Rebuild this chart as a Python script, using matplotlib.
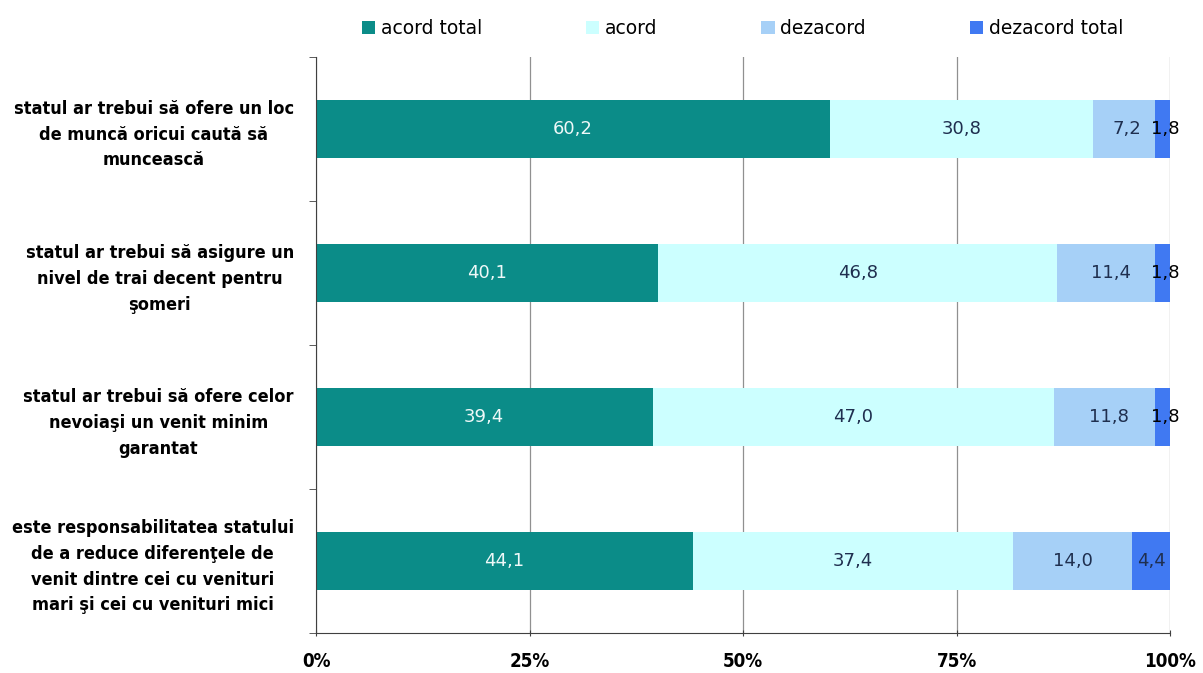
import matplotlib
matplotlib.use("Agg")
import matplotlib.pyplot as plt
import numpy as np

categories = [
    "statul ar trebui să ofere un loc\nde muncă oricui caută să\nmuncească",
    "statul ar trebui să asigure un\nnivel de trai decent pentru\nşomeri",
    "statul ar trebui să ofere celor\nnevoiaşi un venit minim\ngarantat",
    "este responsabilitatea statului\nde a reduce diferenţele de\nvenit dintre cei cu venituri\nmari şi cei cu venituri mici",
]
series_names = ["acord total", "acord", "dezacord", "dezacord total"]
acord_total = [60.2, 40.1, 39.4, 44.1]
acord = [30.8, 46.8, 47.0, 37.4]
dezacord = [7.2, 11.4, 11.8, 14.0]
dezacord_total = [1.8, 1.8, 1.8, 4.4]
x_ticks = [0, 25, 50, 75, 100]
x_tick_labels = ["0%", "25%", "50%", "75%", "100%"]

colors = ["#0B8C88", "#CCFFFF", "#A6D0F7", "#4079F2"]
text_colors = ["#EEF8F8", "#1F2F4F", "#1F2F4F", "#1F2F4F"]

data = np.array([acord_total, acord, dezacord, dezacord_total], dtype=float)
totals = data.sum(axis=0)
pct = data / totals * 100

fig = plt.figure(figsize=(12.03, 6.73), dpi=100)
ax = fig.add_axes([0.2627, 0.0594, 0.7099, 0.856])

y = np.arange(len(categories))
left = np.zeros(len(categories))
handles = []
for i, name in enumerate(series_names):
    h = ax.barh(y, pct[i], left=left, height=0.4, color=colors[i], label=name, zorder=2)
    handles.append(h)
    for j in range(len(categories)):
        val = data[i][j]
        cx = left[j] + pct[i][j] / 2
        txt = f"{val:.1f}".replace(".", ",")
        if i == 3 and val < 3:
            ax.text(cx + 0.3, y[j], txt, ha="center", va="center",
                    fontsize=13, color="black", zorder=3)
        else:
            if i == 2 and dezacord_total[j] < 3:
                cx = left[j] + pct[i][j] * 0.55
            ax.text(cx, y[j], txt, ha="center", va="center", fontsize=13,
                    color=text_colors[i], zorder=3)
    left += pct[i]

ax.set_xlim(0, 100)
ax.set_ylim(len(categories) - 0.5, -0.5)
ax.set_xticks(x_ticks)
ax.set_xticklabels(x_tick_labels, fontsize=13.5, fontweight="bold", fontstretch="condensed")
ax.set_yticks(y)
ax.set_yticklabels(categories, fontsize=13, fontweight="bold", multialignment="center",
                   fontstretch="condensed", linespacing=1.55)
ax.set_yticks(np.arange(len(categories) + 1) - 0.5, minor=True)
ax.tick_params(axis="y", which="major", length=0, pad=16)
ax.tick_params(axis="y", which="minor", length=5, direction="out", color="#404040")
ax.tick_params(axis="x", length=5, direction="inout", color="#404040", pad=11)
ax.grid(axis="x", color="#909090", linewidth=0.9, zorder=0)
for s in ["top", "right"]:
    ax.spines[s].set_visible(False)
ax.spines["left"].set_color("#404040")
ax.spines["bottom"].set_color("#404040")

fig.legend(handles=handles, labels=series_names, loc="upper left",
           bbox_to_anchor=(362 / 1203, 1 - 19 / 673), ncol=4, frameon=False, fontsize=13.5,
           handlelength=0.7, handleheight=0.7, handletextpad=0.3, columnspacing=5.55,
           borderpad=0, borderaxespad=0)

fig.savefig("out.png", dpi=100)
